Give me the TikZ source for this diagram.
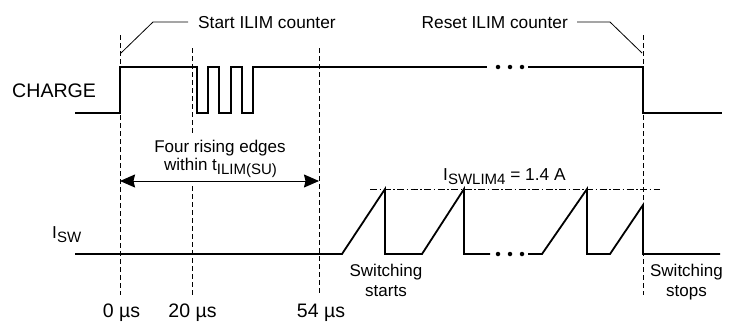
\documentclass[tikz,border=0pt]{standalone}
\usepackage{fontspec}
\setmainfont{Liberation Sans}
\usetikzlibrary{arrows.meta}
\newcommand{\mysub}[1]{\raisebox{-4.5pt}{\fontsize{15}{15}\selectfont #1}}
\tikzset{
  sig/.style={line width=1.8pt, line join=miter},
  guide/.style={line width=0.7pt, dash pattern=on 5pt off 3pt},
  leader/.style={line width=0.8pt},
  lim/.style={line width=0.7pt, dash pattern=on 7pt off 2.5pt on 1.5pt off 2.5pt},
  lbl/.style={inner sep=0pt, font=\fontsize{17.3}{20}\selectfont},
  dot/.style={circle, fill=black, inner sep=0pt, minimum size=4.5pt},
  span/.style={line width=1pt, {Stealth[length=15pt,width=13pt,inset=1.5pt]}-{Stealth[length=15pt,width=13pt,inset=1.5pt]}}
}
\begin{document}
\begin{tikzpicture}[x=1pt,y=-1pt]
\useasboundingbox (0,0) rectangle (736,324);
% guide lines
\draw[guide] (120,35) -- (120,295);
\draw[guide] (192,48) -- (192,133);
\draw[guide] (192,186) -- (192,295);
\draw[guide] (319,48) -- (319,295);
\draw[guide] (643,35) -- (643,295);
% labels
\node[lbl, anchor=base west] (start) at (198,28) {Start ILIM counter};
\node[lbl, anchor=base east] (reset) at (568,28) {Reset ILIM counter};
\coordinate (s1) at (188,22);
\coordinate (s2) at (153,22);
\coordinate (s3) at (121,53);
\coordinate (r1) at (577,22);
\coordinate (r2) at (610,22);
\coordinate (r3) at (642,53);
\draw[leader] (s1) -- (s2) -- (s3);
\draw[leader] (r1) -- (r2) -- (r3);
\node[lbl, anchor=base west, font=\fontsize{19.6}{22}\selectfont] (charge) at (12,97) {CHARGE};
\node[lbl, anchor=base west] (isw) at (52,238) {I\mysub{SW}};
% CHARGE waveform
\draw[sig] (75,113) -- (120,113) -- (120,67) -- (197,67) -- (197,113) -- (208,113) -- (208,67)
  -- (219,67) -- (219,113) -- (231,113) -- (231,67) -- (242,67) -- (242,113) -- (253,113)
  -- (253,67) -- (487,67);
\draw[sig] (528,67) -- (643,67) -- (643,113) -- (722,113);
\node[dot] (cd1) at (498,67) {};
\node[dot] (cd2) at (510,67) {};
\node[dot] (cd3) at (522,67) {};
% span arrow
\node[lbl, anchor=base, font=\fontsize{17}{19}\selectfont] (four1) at (220,152) {Four rising edges};
\node[lbl, anchor=base, font=\fontsize{17}{19}\selectfont] (four2) at (220.5,170) {within t\mysub{ILIM(SU)}};
\coordinate (a1) at (120,181);
\coordinate (a2) at (319,181);
\draw[span] (a1) -- (a2);
% limit line
\draw[lim] (370,189) -- (660,189);
\node[lbl, anchor=base west] (limlbl) at (443,180) {I\mysub{SWLIM4} = 1.4 A};
% ISW waveform
\draw[sig] (75,254) -- (342,254) -- (385,189) -- (385,254) -- (422,254) -- (464,189) -- (464,254) -- (490,254);
\draw[sig] (528,254) -- (542,254) -- (587,189) -- (587,254) -- (610,254) -- (643,205) -- (643,254) -- (720,254);
\node[dot] (id1) at (498,254) {};
\node[dot] (id2) at (510,254) {};
\node[dot] (id3) at (522,254) {};
\node[lbl, anchor=base, font=\fontsize{17}{19}\selectfont] (sw1a) at (386,276) {Switching};
\node[lbl, anchor=base, font=\fontsize{17}{19}\selectfont] (sw1b) at (386,296) {starts};
\node[lbl, anchor=base, font=\fontsize{17}{19}\selectfont] (sw2a) at (686.5,276) {Switching};
\node[lbl, anchor=base, font=\fontsize{17}{19}\selectfont] (sw2b) at (686.5,296) {stops};
% time labels
\node[lbl, anchor=base, font=\fontsize{19.5}{22}\selectfont] (t0) at (121.5,317) {0 µs};
\node[lbl, anchor=base, font=\fontsize{19.5}{22}\selectfont] (t20) at (192.5,317) {20 µs};
\node[lbl, anchor=base, font=\fontsize{19.5}{22}\selectfont] (t54) at (321,317) {54 µs};
\end{tikzpicture}
\end{document}
